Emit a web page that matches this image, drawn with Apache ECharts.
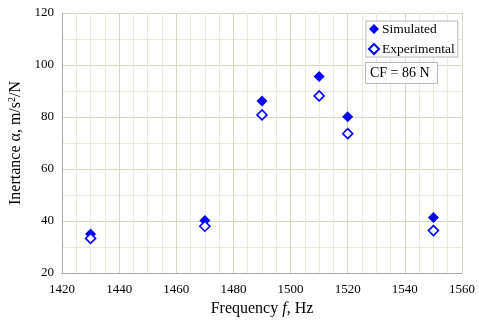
<!DOCTYPE html>
<html><head><meta charset="utf-8">
<script src="https://cdn.jsdelivr.net/npm/echarts@6/dist/echarts.min.js"></script>
<style>html,body{margin:0;padding:0;background:#fff}#c{width:479px;height:320px}</style>
</head><body><div id="c"></div>
<script>
const freqs = [1430, 1470, 1490, 1510, 1520, 1550];
const simulated = [35, 40.2, 86.2, 95.6, 80.1, 41.3];
const experimental = [33.3, 38, 80.8, 88.1, 73.6, 36.3];
const xTicks = [1420, 1440, 1460, 1480, 1500, 1520, 1540, 1560];
const yTicks = [20, 40, 60, 80, 100, 120];

const FONT = 'Liberation Serif';
const chart = echarts.init(document.getElementById('c'));
chart.setOption({
  animation: false,
  textStyle: {fontFamily: FONT},
  grid: {left: 62, right: 17, top: 13, bottom: 47, containLabel: false, outerBoundsMode: 'none'},
  title: {
    text: 'CF = 86 N', left: 365, top: 62,
    padding: [4, 8, 4, 5],
    borderColor: '#b8b8b8', borderWidth: 1, backgroundColor: '#fff',
    textStyle: {fontFamily: FONT, fontSize: 14, fontWeight: 'normal', color: '#000', lineHeight: 14}
  },
  legend: {
    left: 366, top: 21, orient: 'vertical',
    itemWidth: 10, itemHeight: 10, itemGap: 6,
    padding: [1, 3, 1, 2],
    borderColor: '#b8b8b8', borderWidth: 1, backgroundColor: '#fff',
    textStyle: {fontFamily: FONT, fontSize: 13.5, lineHeight: 14, color: '#000', padding: [0, 0, 0, -2]},
    data: ['Simulated', 'Experimental']
  },
  xAxis: {
    type: 'value', min: xTicks[0], max: xTicks[xTicks.length - 1], interval: 20,
    name: '{a|Frequency }{i|f}{a|, Hz}', nameLocation: 'middle', nameGap: 28,
    nameTextStyle: {rich: {
      a: {fontFamily: FONT, fontSize: 16, color: '#000'},
      i: {fontFamily: FONT, fontSize: 16, fontStyle: 'italic', color: '#000'}
    }},
    axisLine: {lineStyle: {color: '#a8a8a8'}},
    axisTick: {show: false},
    axisLabel: {fontFamily: FONT, fontSize: 13, color: '#000', margin: 10, formatter: v => String(v)},
    splitLine: {show: true, lineStyle: {color: '#d9d6bd'}},
    minorTick: {show: false, splitNumber: 4},
    minorSplitLine: {show: true, lineStyle: {color: '#ece9d9'}}
  },
  yAxis: {
    type: 'value', min: yTicks[0], max: yTicks[yTicks.length - 1], interval: 20,
    name: '{a|Inertance α, m/s}{s|2}{a|/N}', nameLocation: 'middle', nameGap: 25,
    nameTextStyle: {rich: {
      a: {fontFamily: FONT, fontSize: 16, color: '#000'},
      s: {fontFamily: FONT, fontSize: 10, color: '#000', verticalAlign: 'top', padding: [0, 0, 7, 0]}
    }},
    axisLine: {show: true, lineStyle: {color: '#a8a8a8'}},
    axisTick: {show: false},
    axisLabel: {fontFamily: FONT, fontSize: 13, color: '#000', margin: 8},
    splitLine: {show: true, lineStyle: {color: '#d9d6bd'}},
    minorTick: {show: false, splitNumber: 2},
    minorSplitLine: {show: true, lineStyle: {color: '#ece9d9'}}
  },
  series: [
    {
      name: 'Simulated', type: 'scatter', symbol: 'diamond', symbolSize: 11,
      itemStyle: {color: '#0000ff', opacity: 1},
      data: freqs.map((f, i) => [f, simulated[i]])
    },
    {
      name: 'Experimental', type: 'scatter', symbol: 'diamond', symbolSize: 10,
      itemStyle: {color: '#ffffff', borderColor: '#0000ff', borderWidth: 1.6, opacity: 1},
      data: freqs.map((f, i) => [f, experimental[i]])
    }
  ]
});
</script></body></html>
